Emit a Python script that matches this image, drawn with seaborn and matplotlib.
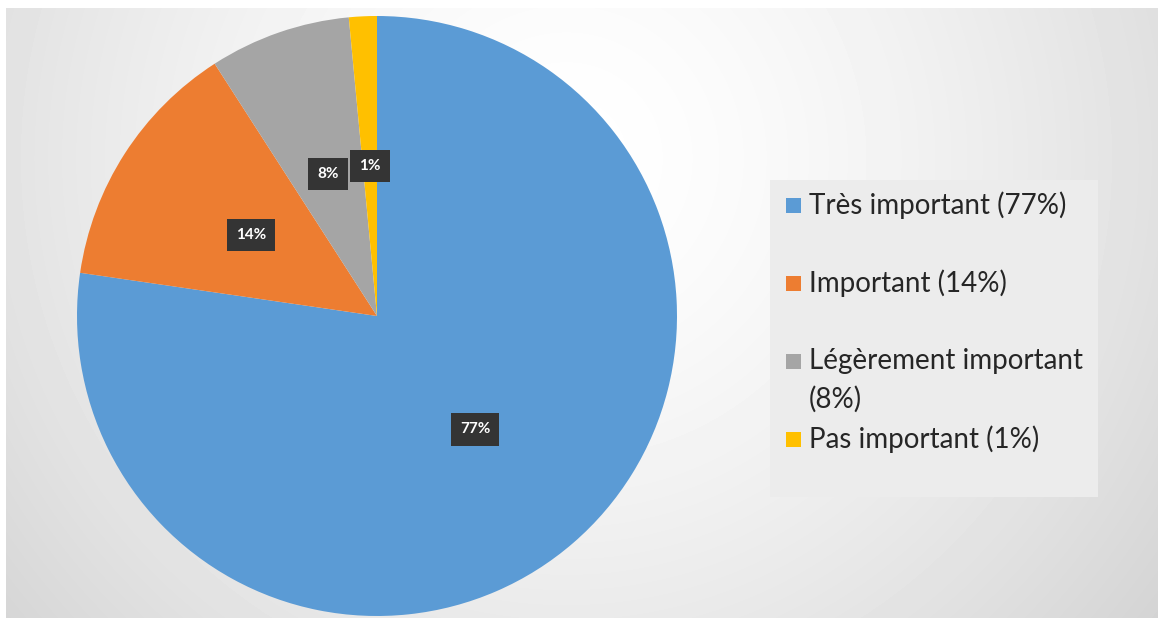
import numpy as np
import matplotlib.pyplot as plt
from matplotlib.patches import Rectangle
import seaborn as sns

# valeurs
categories = ["Très important", "Important", "Légèrement important", "Pas important"]
shares = [77.3, 13.6, 7.6, 1.5]
slice_labels = ["77%", "14%", "8%", "1%"]
legend_labels = ["Très important (77%)", "Important (14%)",
                 "Légèrement important\n(8%)", "Pas important (1%)"]
colors = ["#5B9BD5", "#ED7D31", "#A5A5A5", "#FFC000"]

sns.set_theme(style="white")
plt.rcParams['font.family'] = ['Lato', 'DejaVu Sans']

W, H = 1161, 622
fig = plt.figure(figsize=(W / 100, H / 100), dpi=100)
fig.patch.set_facecolor('white')

# fond en dégradé radial
bg = fig.add_axes([6 / W, 4 / H, 1152 / W, 610 / H], zorder=0)
yy, xx = np.mgrid[0:610, 0:1152]
d = np.hypot(xx - 560, yy - 150) / 750
shade = 1 - 0.17 * np.clip(d, 0, 1.2) ** 1.5
bg.imshow(shade, cmap='gray', vmin=0, vmax=1, aspect='auto', interpolation='bilinear')
bg.axis('off')

# camembert
ax = fig.add_axes([77 / W, 6 / H, 600 / W, 600 / H], zorder=1)
ax.set_facecolor('none')
wedges, texts, autotexts = ax.pie(shares, colors=sns.color_palette(colors), startangle=90,
                                  counterclock=False, autopct='%1.0f%%',
                                  pctdistance=0.5, wedgeprops=dict(linewidth=0))
for t, lab in zip(autotexts, slice_labels):
    t.set_text(lab)
    t.set_color('white')
    t.set_fontweight('bold')
    t.set_fontsize(11)
    t.set_bbox(dict(boxstyle='square,pad=0.6', facecolor='#343434', edgecolor='none'))
ax.set_xlim(-1, 1)
ax.set_ylim(-1, 1)
ax.set_aspect('equal')

# légende dessinée à la main
fig.patches.append(Rectangle((770 / W, (H - 497) / H), 328 / W, 317 / H,
                             transform=fig.transFigure, facecolor='#ececec',
                             edgecolor='none', zorder=2))
y0, step = 205, 78
for i, (lab, c) in enumerate(zip(legend_labels, colors)):
    y = y0 + i * step
    fig.patches.append(Rectangle((786 / W, (H - y - 7.5) / H), 15 / W, 15 / H,
                                 transform=fig.transFigure, facecolor=c,
                                 edgecolor='none', zorder=3))
    fig.text(809 / W, (H - y + 13.5) / H, lab, va='top', ha='left', fontsize=20,
             color='#262626', linespacing=1.55, zorder=4)

fig.savefig('out.png', dpi=100)
